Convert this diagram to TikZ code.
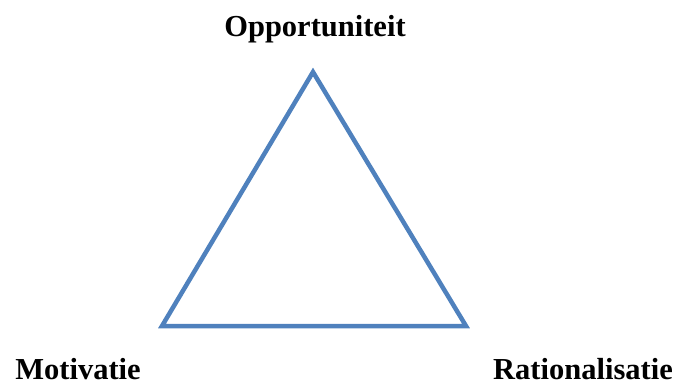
\documentclass[tikz,border=0pt]{standalone}
\usepackage{fontspec}
\setmainfont{Liberation Serif}
\definecolor{triblue}{HTML}{4F81BD}
\tikzset{
  lbl/.style={font=\fontsize{30.5}{36}\selectfont\bfseries, inner sep=0pt, anchor=base},
  side/.style={draw=triblue, line width=4.5pt, line join=miter}
}
\begin{document}
\begin{tikzpicture}[x=1pt,y=-1pt]
\useasboundingbox (0,0) rectangle (678,385);
\coordinate (top) at (313,72);
\coordinate (bl) at (162,326);
\coordinate (br) at (466,326);
\draw[side] (top) -- (bl) -- (br) -- cycle;
\node[lbl] (opp) at (315,37) {Opportuniteit};
\node[lbl] (mot) at (78,379) {Motivatie};
\node[lbl] (rat) at (583,379) {Rationalisatie};
\end{tikzpicture}
\end{document}
